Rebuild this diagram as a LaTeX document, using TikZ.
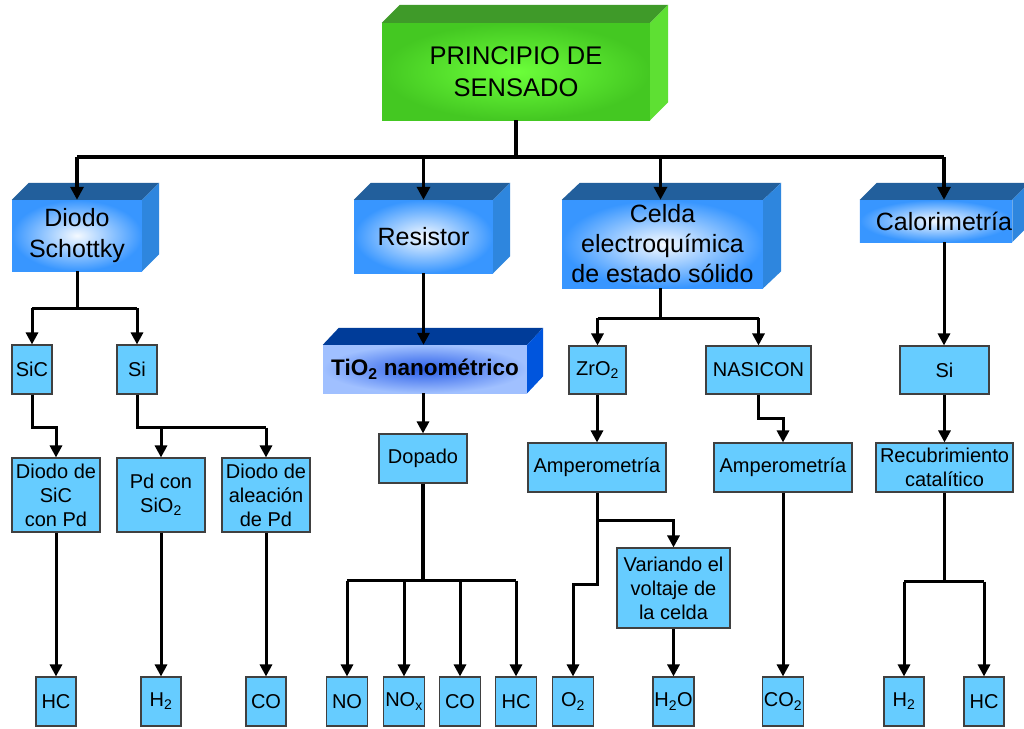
\documentclass[tikz,border=0pt]{standalone}
\usepackage{fontspec}
\setmainfont{Liberation Sans}
\usetikzlibrary{arrows.meta,calc}
\definecolor{leafblue}{HTML}{66CCFF}
\definecolor{btop}{HTML}{225F9C}
\definecolor{bside}{HTML}{2E86DE}
\definecolor{bout}{HTML}{3896FF}
\definecolor{bin}{HTML}{F4F9FF}
\definecolor{gtop}{HTML}{3F9A29}
\definecolor{gside}{HTML}{5EE033}
\definecolor{gout}{HTML}{44C822}
\definecolor{gin}{HTML}{6CFF3A}
\definecolor{ttop}{HTML}{003C99}
\definecolor{tside}{HTML}{0055DD}
\definecolor{tout}{HTML}{A0C0FF}
\definecolor{tin}{HTML}{2A5EE8}
\newcommand{\cubefaces}[5]{%
  \fill[#4] (#1.north west) -- ++(#2,-#3) -- ([shift={(#2,-#3)}]#1.north east) -- (#1.north east) -- cycle;
  \fill[#5] (#1.north east) -- ++(#2,-#3) -- ([shift={(#2,-#3)}]#1.south east) -- (#1.south east) -- cycle;}
\newcommand{\sub}[1]{\textsubscript{#1}}
\begin{document}
\begin{tikzpicture}[x=1pt,y=-1pt,
  leaf/.style={draw=black!75, fill=leafblue, line width=1.1pt, inner sep=0pt, align=center,
    font=\fontsize{20}{24}\selectfont},
  bluecube/.style={inner sep=0pt, align=center, inner color=bin, outer color=bout,
    font=\fontsize{25}{30.5}\selectfont},
  bus/.style={line width=4.5pt},
  ln/.style={line width=3pt},
  arr/.style={line width=3pt, -{Triangle[length=12pt,width=12pt]}},
  bigarr/.style={line width=3.4pt, -{Triangle[length=13pt,width=13pt]}}]
\useasboundingbox (0,0) rectangle (1024,728);
\fill[white] (0,0) rectangle (1024,728);

% top
\node[inner sep=0pt, align=center, inner color=gin, outer color=gout, minimum width=268pt, minimum height=97pt,
  font=\fontsize{25.5}{32}\selectfont] (top) at (516,71.5) {PRINCIPIO DE\\SENSADO};
\cubefaces{top}{18}{18}{gtop}{gside}

% level 1
\node[bluecube, minimum width=130pt, minimum height=71pt] (diodo) at (77,235.5) {Diodo\\Schottky};
\cubefaces{diodo}{17}{17}{btop}{bside}
\node[bluecube, minimum width=139pt, minimum height=73pt] (resistor) at (423.5,236.5) {Resistor};
\cubefaces{resistor}{17}{17}{btop}{bside}
\node[bluecube, minimum width=201pt, minimum height=88pt, font=\fontsize{25}{30}\selectfont] (celda) at (662.5,244) {Celda\\electroquímica\\de estado sólido};
\cubefaces{celda}{18}{17}{btop}{bside}
\node[bluecube, minimum width=138pt, minimum height=42pt] (calor) at (936,221) {\hspace*{16pt}Calorimetría};
\cubefaces{calor}{17}{17}{btop}{bside}
\coordinate (celN) at ([xshift=-2pt]celda.north);
\coordinate (celS) at ([xshift=-2pt]celda.south);
\coordinate (calN) at ([xshift=8pt]calor.north);
\coordinate (calS) at ([xshift=8pt]calor.south);

% TiO2
\node[inner sep=0pt, inner color=tin, outer color=tout, minimum width=204pt, minimum height=48pt,
  font=\fontsize{22.5}{26}\selectfont\bfseries] (tio2) at (425,369) {TiO\sub{2} nanométrico};
\cubefaces{tio2}{16}{17}{ttop}{tside}

% leaves - Diodo branch
\node[leaf, minimum width=40pt, minimum height=49pt] (sic) at (32,369.5) {SiC};
\node[leaf, minimum width=40pt, minimum height=49pt] (si1) at (137,369.5) {Si};
\node[leaf, minimum width=88pt, minimum height=74pt] (dsic) at (56,495) {Diodo de\\SiC\\con Pd};
\node[leaf, minimum width=88pt, minimum height=74pt] (pdsio) at (161,495) {Pd con\\SiO\sub{2}};
\node[leaf, minimum width=88pt, minimum height=74pt] (dal) at (266,495) {Diodo de\\aleación\\de Pd};
\node[leaf, minimum width=40pt, minimum height=49pt] (hc1) at (56,701.5) {HC};
\node[leaf, minimum width=40pt, minimum height=49pt] (h21) at (161,701.5) {H\sub{2}};
\node[leaf, minimum width=40pt, minimum height=49pt] (co1) at (266,701.5) {CO};

% Resistor branch
\node[leaf, minimum width=88pt, minimum height=49pt] (dopado) at (423,458.5) {Dopado};
\node[leaf, minimum width=41pt, minimum height=49pt] (no) at (347,701.5) {NO};
\node[leaf, minimum width=41pt, minimum height=49pt] (nox) at (404,701.5) {NO\sub{x}};
\node[leaf, minimum width=41pt, minimum height=49pt] (co2b) at (460,701.5) {CO};
\node[leaf, minimum width=41pt, minimum height=49pt] (hc2) at (516,701.5) {HC};

% Celda branch
\node[leaf, minimum width=57pt, minimum height=48pt] (zro) at (597.5,370) {ZrO\sub{2}};
\node[leaf, minimum width=105pt, minimum height=48pt] (nasicon) at (758.5,370) {NASICON};
\node[leaf, minimum width=138pt, minimum height=49pt] (amp1) at (597,467.5) {Amperometría};
\node[leaf, minimum width=138pt, minimum height=49pt] (amp2) at (783,467.5) {Amperometría};
\node[leaf, minimum width=113pt, minimum height=80pt] (var) at (673.5,588) {Variando el\\voltaje de\\la celda};
\node[leaf, minimum width=41pt, minimum height=49pt] (o2) at (573,701.5) {O\sub{2}};
\node[leaf, minimum width=41pt, minimum height=49pt] (h2o) at (673.5,701.5) {H\sub{2}O};
\node[leaf, minimum width=41pt, minimum height=49pt] (co2) at (783,701.5) {CO\sub{2}};

% Calorimetria branch
\node[leaf, minimum width=89pt, minimum height=48pt] (si2) at (944.5,370) {Si};
\node[leaf, minimum width=137pt, minimum height=49pt] (recub) at (944.5,467.5) {Recubrimiento\\catalítico};
\node[leaf, minimum width=40pt, minimum height=49pt] (h22) at (904,701.5) {H\sub{2}};
\node[leaf, minimum width=40pt, minimum height=49pt] (hc3) at (984,701.5) {HC};

% top bus
\coordinate (b0) at (516,157);
\draw[bus] (top.south) -- (b0);
\draw[bus] (b0 -| diodo.north) -- (b0 -| calN);
\draw[bigarr] (b0 -| diodo.north) -- (diodo.north);
\draw[bigarr] (b0 -| resistor.north) -- (resistor.north);
\draw[bigarr] (b0 -| celN) -- (celN);
\draw[bigarr] (b0 -| calN) -- (calN);

% Diodo branch
\draw[ln] (diodo.south) -- ++(0,37) coordinate (dj);
\draw[ln] (dj -| sic.north) -- (dj -| si1.north);
\draw[arr] (dj -| sic.north) -- (sic.north);
\draw[arr] (dj -| si1.north) -- (si1.north);
\draw[arr] (sic.south) -- ++(0,33) -| (dsic.north);
\draw[ln] (si1.south) -- ++(0,33) coordinate (sj) -- (sj -| dal.north);
\draw[arr] (sj -| pdsio.north) -- (pdsio.north);
\draw[arr] (sj -| dal.north) -- (dal.north);
\draw[arr] (dsic.south) -- (hc1.north);
\draw[arr] (pdsio.south) -- (h21.north);
\draw[arr] (dal.south) -- (co1.north);

% Resistor branch
\draw[arr] (resistor.south) -- (resistor.south |- tio2.north);
\draw[arr] (tio2.south -| dopado.north) -- (dopado.north);
\draw[bus] (dopado.south) -- ++(0,97) coordinate (rj);
\draw[ln] (rj -| no.north) -- (rj -| hc2.north);
\draw[arr] (rj -| no.north) -- (no.north);
\draw[arr] (rj -| nox.north) -- (nox.north);
\draw[arr] (rj -| co2b.north) -- (co2b.north);
\draw[arr] (rj -| hc2.north) -- (hc2.north);

% Celda branch
\draw[ln] (celS) -- ++(0,30) coordinate (cj);
\draw[ln] (cj -| zro.north) -- (cj -| nasicon.north);
\draw[arr] (cj -| zro.north) -- (zro.north);
\draw[arr] (cj -| nasicon.north) -- (nasicon.north);
\draw[arr] (zro.south -| amp1.north) -- (amp1.north);
\draw[arr] (nasicon.south) -- ++(0,24) -| (amp2.north);
\draw[ln] (amp1.south) -- ++(0,28) coordinate (aj);
\draw[arr] (aj) -| (var.north);
\draw[arr] (aj) -- ++(0,64) -| (o2.north);
\draw[arr] (var.south) -- (h2o.north);
\draw[arr] (amp2.south) -- (co2.north);

% Calorimetria branch
\draw[arr] (calS) -- (calS |- si2.north);
\draw[arr] (si2.south) -- (recub.north);
\draw[ln] (recub.south) -- ++(0,89) coordinate (kj);
\draw[ln] (kj -| h22.north) -- (kj -| hc3.north);
\draw[arr] (kj -| h22.north) -- (h22.north);
\draw[arr] (kj -| hc3.north) -- (hc3.north);
\end{tikzpicture}
\end{document}
